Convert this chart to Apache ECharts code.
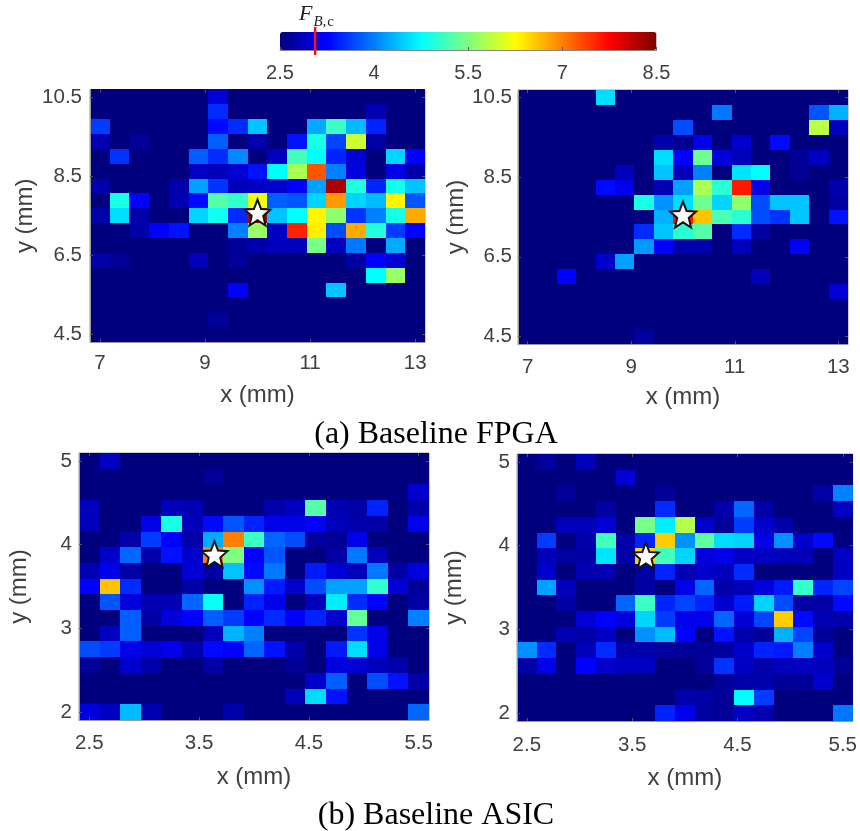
<!DOCTYPE html>
<html><head><meta charset="utf-8">
<style>html,body{margin:0;padding:0;background:#fff}#c{width:860px;height:831px}</style>
<script src="https://cdn.jsdelivr.net/npm/echarts@6/dist/echarts.min.js"></script>
</head><body><div id="c"></div>
<script>
const o = 2.5;
const fpgaLeft = [
[o,o,o,o,o,o,3.0,o,o,o,o,o,o,o,o,o,o],
[o,o,o,o,o,o,3.5,o,o,o,o,o,o,o,2.8,o,o],
[3.6,o,o,o,o,o,3.3,3.5,4.4,o,o,4.25,5.1,4.35,3.45,o,o],
[2.8,o,2.65,o,o,o,3.8,o,2.76,o,3.35,4.9,3.65,5.95,2.72,o,o],
[o,3.55,o,o,o,3.8,3.5,4.05,o,2.9,5.15,4.75,3.45,3.0,o,4.5,3.25],
[o,o,o,o,o,2.9,2.85,3.0,3.35,4.75,5.75,7.25,4.0,3.05,o,3.12,2.76],
[2.76,o,o,o,2.76,4.2,3.55,2.85,2.9,2.95,3.25,4.2,8.25,4.95,3.45,4.85,4.4],
[o,4.9,3.25,o,2.8,3.3,5.25,5.05,6.15,3.8,3.75,4.5,6.85,4.5,4.35,6.3,3.75],
[2.76,4.55,2.76,o,o,4.5,4.85,3.5,8.25,4.4,4.75,6.3,5.6,3.55,4.0,4.9,6.75],
[o,o,2.76,3.25,3.35,o,o,4.0,5.65,2.9,7.55,6.35,3.7,6.75,4.95,3.6,3.25],
[o,o,o,o,o,o,o,2.65,2.76,2.85,2.85,5.45,2.85,3.95,o,4.25,o],
[2.76,2.65,o,o,o,2.85,o,2.65,o,o,o,o,o,2.68,3.25,3.0,o],
[o,o,o,o,o,o,o,o,o,o,o,o,o,o,4.75,5.65,o],
[o,o,o,o,o,o,o,3.25,o,o,o,o,4.4,o,o,o,o],
[o,o,o,o,o,o,o,o,o,o,o,o,o,o,o,o,o],
[o,o,o,o,o,o,2.65,o,o,o,o,o,o,o,o,o,o],
[o,o,o,o,o,o,o,o,o,o,o,o,o,o,o,o,o]];
const fpgaRight = [
[o,o,o,o,4.55,o,o,o,o,o,o,o,o,o,o,o,o],
[o,o,o,o,o,o,o,o,o,o,3.95,o,o,o,o,3.75,4.3],
[o,o,o,o,o,o,o,o,3.7,o,o,o,o,o,o,5.85,2.85],
[o,o,o,o,o,o,o,2.76,2.6,3.12,o,2.95,o,3.3,o,o,o],
[o,o,o,o,o,o,o,4.55,3.25,5.4,3.05,2.85,o,o,2.65,2.9,o],
[o,o,o,o,o,2.85,o,4.4,2.85,4.0,o,4.6,4.75,o,2.62,o,o],
[o,o,o,o,3.3,3.12,o,2.8,4.2,5.75,5.0,7.6,3.12,o,o,o,2.76],
[o,o,o,o,o,o,4.9,4.1,4.55,5.4,4.5,5.6,3.7,4.4,4.4,o,2.68],
[o,o,o,o,o,o,o,4.3,7.6,6.6,5.2,5.0,3.7,3.55,4.4,o,3.35],
[o,o,o,o,o,o,3.5,4.4,5.0,5.25,o,3.5,2.72,o,o,o,o],
[o,o,o,o,o,o,4.15,3.25,2.76,2.76,o,2.85,o,o,3.25,o,o],
[o,o,o,o,2.95,4.2,o,o,o,o,o,o,o,o,o,o,o],
[o,o,3.25,o,o,o,o,o,o,o,o,o,2.85,o,o,o,o],
[o,o,o,o,o,o,o,o,o,o,o,o,o,o,o,o,3.0],
[o,o,o,o,o,o,o,o,o,o,o,o,o,o,o,o,o],
[o,o,o,o,o,o,o,o,o,o,o,o,o,o,o,o,o],
[o,o,o,o,o,o,2.68,o,o,o,o,o,o,o,o,o,o]];
const asicLeft = [
[o,2.9,o,o,o,o,o,o,o,o,o,o,o,o,o,o,o],
[o,o,o,o,o,o,2.65,o,o,o,o,o,o,o,o,o,o],
[o,o,o,o,o,o,o,o,o,o,o,o,o,o,o,o,2.95],
[2.85,o,o,o,2.85,2.8,o,o,o,2.76,2.9,5.25,2.8,2.72,3.45,o,2.76],
[2.85,o,o,3.12,4.9,2.85,3.3,3.75,3.45,3.12,3.12,3.25,2.85,2.76,2.72,o,3.12],
[o,o,2.76,3.6,3.25,2.76,4.25,7.0,5.1,3.85,3.7,2.68,2.65,3.12,o,o,o],
[o,2.95,3.85,2.76,3.35,2.95,7.0,5.5,3.25,3.75,o,o,2.72,3.95,2.85,o,o],
[2.8,3.12,2.72,o,o,3.0,2.72,4.4,3.3,3.95,o,3.4,3.0,2.85,3.95,2.72,3.05],
[3.25,6.6,3.5,o,o,2.72,o,o,4.1,3.4,2.95,3.7,4.2,4.2,5.05,3.0,2.65],
[o,3.75,3.05,2.8,2.8,3.85,4.8,o,3.45,3.12,o,2.85,4.65,3.5,3.25,o,2.72],
[o,o,3.8,2.72,3.05,3.25,3.8,3.6,3.25,3.5,3.25,3.45,2.95,5.35,o,o,4.0],
[o,2.9,3.8,o,o,o,2.85,4.3,4.0,o,o,o,o,3.55,3.12,o,o],
[3.7,3.6,3.12,3.0,3.12,2.8,3.3,3.25,3.85,3.35,2.76,o,3.4,4.55,3.12,o,o],
[2.65,o,2.95,2.76,o,o,2.72,o,o,o,2.65,o,3.05,3.0,2.85,2.76,o],
[o,o,o,o,o,o,o,o,o,o,o,2.95,3.8,o,3.7,3.35,2.76],
[o,o,o,o,o,o,o,o,o,o,2.85,4.55,3.35,o,o,o,o],
[3.05,2.9,4.35,2.8,o,o,o,2.76,o,o,o,o,o,o,o,o,3.85]];
const asicRight = [
[o,2.68,o,2.85,o,o,o,o,o,o,o,o,o,o,o,o,o],
[o,o,o,o,o,3.0,o,o,o,o,o,o,o,o,o,o,o],
[o,o,2.65,o,o,o,o,2.65,o,o,o,o,o,o,o,2.72,4.0],
[o,o,o,o,2.72,o,o,3.5,o,o,2.76,3.85,2.76,o,o,o,2.9],
[o,o,2.85,2.85,3.0,o,5.45,4.65,5.8,2.95,2.65,3.6,2.95,2.76,o,o,o],
[o,3.6,o,2.76,5.15,2.76,3.45,6.55,4.1,5.3,4.55,4.5,3.12,4.1,2.95,3.3,o],
[o,2.85,2.68,2.72,4.6,2.76,6.5,5.15,4.5,3.05,3.12,2.9,2.9,2.85,2.85,o,2.9],
[o,2.95,o,2.8,2.8,o,2.72,3.45,2.8,2.95,2.85,3.5,o,o,o,o,2.9],
[o,4.2,2.85,o,o,o,2.72,o,3.12,3.85,2.76,2.85,3.05,3.4,5.05,3.45,3.65],
[o,o,2.72,o,o,3.85,5.1,3.45,3.65,3.45,2.95,3.4,4.5,3.7,2.72,2.72,3.3],
[o,o,o,3.0,3.25,3.05,4.5,3.6,3.12,3.12,3.85,3.0,3.65,6.55,3.3,2.8,2.76],
[o,o,2.8,2.72,2.9,o,4.1,4.35,3.25,o,3.35,2.76,2.65,4.3,3.65,2.65,o],
[4.1,3.5,o,2.85,3.5,2.76,2.76,2.68,2.65,2.65,2.68,2.95,3.45,3.4,4.0,2.95,o],
[2.76,3.12,o,3.25,2.95,2.9,2.9,o,o,2.65,3.55,2.9,2.76,2.85,2.9,2.85,2.65],
[o,o,o,o,o,o,o,o,o,o,2.65,2.76,2.76,2.65,2.65,2.95,o],
[o,o,o,o,o,o,o,o,2.76,2.72,2.65,4.75,3.6,o,o,o,o],
[o,o,o,o,o,o,o,3.45,3.12,2.68,2.65,2.9,2.8,o,o,o,3.95]];

const fpgaCell = 0.375, asicCell = 0.1875;
const fpgaXRange = [6.8125, 13.1875], fpgaYRange = [4.3125, 10.6875];
const asicXRange = [2.40625, 5.59375], asicYRange = [1.90625, 5.09375];
const fpgaXTicks = [7, 9, 11, 13], fpgaYTicks = [4.5, 6.5, 8.5, 10.5];
const asicXTicks = [2.5, 3.5, 4.5, 5.5], asicYTicks = [2, 3, 4, 5];
const colorTicks = [2.5, 4, 5.5, 7, 8.5];
const colorRange = [2.5, 8.5];
const thresholdFBc = 3.06;
const stars = [[10, 7.58], [10, 7.56], [3.64, 3.885], [3.63, 3.88]];
const jet = ['#00007f','#0000ff','#007fff','#00ffff','#7fff7f','#ffff00','#ff7f00','#ff0000','#7f0000'];
const starPath = 'path://M0,-10L2.6,-3.5L9.51,-3.09L4.2,1.36L5.88,8.09L0,4.4L-5.88,8.09L-4.2,1.36L-9.51,-3.09L-2.6,-3.5Z';

const panels = [
 {m:fpgaLeft, cell:fpgaCell, xr:fpgaXRange, yr:fpgaYRange, xt:fpgaXTicks, yt:fpgaYTicks,
  g:{left:90,top:89.5,width:335,height:252.5}, yGap:53, xGap:41, xm:10.5, ym:8},
 {m:fpgaRight, cell:fpgaCell, xr:fpgaXRange, yr:fpgaYRange, xt:fpgaXTicks, yt:fpgaYTicks,
  g:{left:518,top:90,width:330,height:254}, yGap:48, xGap:41, xm:13, ym:6},
 {m:asicLeft, cell:asicCell, xr:asicXRange, yr:asicYRange, xt:asicXTicks, yt:asicYTicks,
  g:{left:79,top:453,width:350,height:267}, yGap:48, xGap:45, xm:13, ym:7},
 {m:asicRight, cell:asicCell, xr:asicXRange, yr:asicYRange, xt:asicXTicks, yt:asicYTicks,
  g:{left:517,top:454,width:336,height:267}, yGap:51, xGap:45, xm:14, ym:7}
];
const FONT = '"Liberation Sans", Arial, sans-serif';
const tickColor = '#404040';
const grids = [], xAxes = [], yAxes = [], series = [];
const mkAxis = (idx, range, ticks, name, gap, margin, pad) => ({
  type:'value', gridIndex:idx, min:range[0], max:range[1], name, nameLocation:'middle', nameGap:gap,
  nameTextStyle:{fontFamily:FONT,fontSize:24,color:tickColor}, z:5, splitLine:{show:false},
  axisLine:{show:true,onZero:false,lineStyle:{color:'#9a9a9a',width:1}},
  axisTick:{show:true,inside:true,length:3,customValues:ticks,lineStyle:{color:'#555',width:1}},
  axisLabel:{fontFamily:FONT,fontSize:20.5,color:tickColor,margin,padding:pad,customValues:ticks,formatter:v=>String(v),hideOverlap:false}
});
const mkMirror = (idx, range, ticks, position) => ({
  type:'value', gridIndex:idx, position, min:range[0], max:range[1], z:5, splitLine:{show:false},
  axisLine:{show:false}, axisLabel:{show:false},
  axisTick:{show:true,inside:true,length:3,customValues:ticks,lineStyle:{color:'#555',width:1}}
});
const mirrorX = [], mirrorY = [];
panels.forEach((p,i)=>{
  grids.push(Object.assign({show:true,borderColor:'#9a9a9a',borderWidth:1,backgroundColor:'#00007f'},p.g));
  xAxes.push(mkAxis(i,p.xr,p.xt,'x (mm)',p.xGap,p.xm,0));
  yAxes.push(mkAxis(i,p.yr,p.yt,'y (mm)',p.yGap,p.ym,[3,0,0,0]));
  mirrorX.push(mkMirror(i,p.xr,p.xt,'top'));
  mirrorY.push(mkMirror(i,p.yr,p.yt,'right'));
  const data = [];
  p.m.forEach((row,r)=>row.forEach((v,c)=>{
    data.push([p.xr[0]+(c+0.5)*p.cell, p.yr[1]-(r+0.5)*p.cell, v]);
  }));
  series.push({
    type:'custom', xAxisIndex:i, yAxisIndex:i, data, encode:{x:0,y:1}, z:2, silent:true,
    renderItem:(params,api)=>{
      const a = api.coord([api.value(0)-p.cell/2, api.value(1)+p.cell/2]);
      const b = api.coord([api.value(0)+p.cell/2, api.value(1)-p.cell/2]);
      const x0=Math.round(a[0]),y0=Math.round(a[1]),x1=Math.round(b[0]),y1=Math.round(b[1]);
      return {type:'rect',shape:{x:x0,y:y0,width:x1-x0,height:y1-y0},style:{fill:api.visual('color')}};
    }
  });
});
panels.forEach((p,i)=>{
  series.push({type:'scatter',xAxisIndex:i,yAxisIndex:i,data:[stars[i]],symbol:starPath,symbolSize:26,z:6,silent:true,
    itemStyle:{color:'#ffffff',borderColor:'#151515',borderWidth:2,opacity:1}});
});
// colour bar axis
grids.push({left:280,top:32,width:376.5,height:18,show:false});
xAxes.push({type:'value',gridIndex:4,min:colorRange[0],max:colorRange[1],z:5,splitLine:{show:false},
  axisLine:{show:true,onZero:false,lineStyle:{color:'#888'}},
  axisTick:{show:true,inside:true,length:3,customValues:colorTicks,lineStyle:{color:'#555'}},
  axisLabel:{fontFamily:FONT,fontSize:20,color:tickColor,margin:13,customValues:colorTicks,formatter:v=>String(v)}});
yAxes.push({type:'value',gridIndex:4,min:0,max:1,show:false});
xAxes.push(...mirrorX); yAxes.push(...mirrorY);
series.push({type:'custom',xAxisIndex:4,yAxisIndex:4,data:[[thresholdFBc,-0.28,1.28]],encode:{x:0,y:[1,2]},z:7,silent:true,
  renderItem:(params,api)=>{
    const a=api.coord([api.value(0),api.value(1)]), b=api.coord([api.value(0),api.value(2)]);
    return {type:'line',shape:{x1:a[0],y1:a[1],x2:b[0],y2:b[1]},style:{stroke:'#f5102a',lineWidth:2.5}};
  }});

const SERIF = '"Liberation Serif",serif';
const chart = echarts.init(document.getElementById('c'),null,{renderer:'canvas'});
chart.setOption({
  backgroundColor:'#ffffff', animation:false,
  title:[
    {text:'(a) Baseline FPGA',left:431,top:414,textAlign:'center',textStyle:{fontFamily:SERIF,fontSize:32,fontWeight:'normal',color:'#000'}},
    {text:'(b) Baseline ASIC',left:431,top:795,textAlign:'center',textStyle:{fontFamily:SERIF,fontSize:32,fontWeight:'normal',color:'#000'}},
    {text:'{f|F}{s|B,}{c|c}',left:299,top:8,padding:0,textStyle:{fontWeight:'normal',rich:{
      f:{fontFamily:SERIF,fontStyle:'italic',fontWeight:'normal',fontSize:22,lineHeight:22,color:'#222',padding:[0,1,5,0],verticalAlign:'bottom'},
      s:{fontFamily:SERIF,fontStyle:'italic',fontWeight:'normal',fontSize:15,lineHeight:15,color:'#222',padding:[0,0,0,0],verticalAlign:'bottom'},
      c:{fontFamily:SERIF,fontWeight:'normal',fontSize:15,lineHeight:15,color:'#222',padding:[0,0,0,1],verticalAlign:'bottom'}}}}
  ],
  visualMap:{type:'continuous',show:true,min:colorRange[0],max:colorRange[1],orient:'horizontal',left:280,top:32,padding:0,
    itemWidth:18,itemHeight:376.5,calculable:false,realtime:false,hoverLink:false,text:null,showLabel:false,
    seriesIndex:[0,1,2,3],dimension:2,inRange:{color:jet},textStyle:{color:'transparent'}},
  grid:grids, xAxis:xAxes, yAxis:yAxes, series
});
</script></body></html>
